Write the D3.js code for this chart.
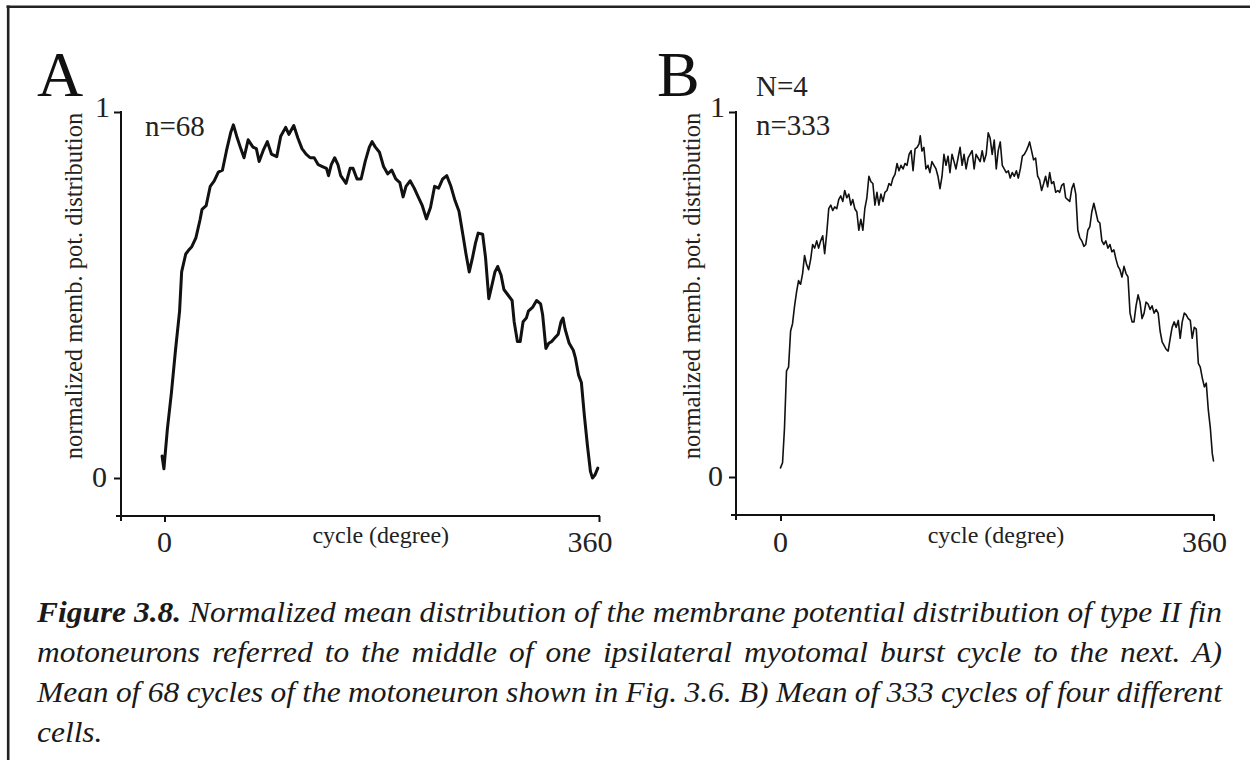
<!DOCTYPE html>
<html><head><meta charset="utf-8">
<script src="https://cdn.jsdelivr.net/npm/d3@7"></script>
<style>
html,body{margin:0;padding:0;background:#fff;}
</style>
</head><body>
<svg id="chart" width="1250" height="760"></svg>
<script>
// ---------------- data ----------------
const xTicks = [0, 360];
const xTickLabels = ["0", "360"];
const yTicks = [0, 1];
const yTickLabels = ["0", "1"];
const panelLetters = ["A", "B"];
const panelNotesA = ["n=68"];
const panelNotesB = ["N=4", "n=333"];
const xTitle = "cycle (degree)";
const yTitle = "normalized memb. pot. distribution";

// Panel A : [phase (deg), normalized value]
const curveA = [[-2,0.06],[-0.5,0.025],[2.4,0.134],[5.7,0.232],[9.1,0.349],[12.5,0.456],[14.2,0.563],[17.6,0.612],[19.9,0.622],[22.6,0.632],
[26.0,0.656],[29.4,0.705],[31.1,0.734],[34.5,0.744],[37.9,0.797],[41.2,0.812],[44.6,0.836],[48.0,0.841],[51.4,0.895],[54.8,0.943],
[57.1,0.965],[59.8,0.934],[63.2,0.900],[65.9,0.875],[69.3,0.924],[73.3,0.904],[76.1,0.900],[78.4,0.865],[81.8,0.895],[85.2,0.919],
[88.6,0.885],[93.0,0.878],[96.3,0.934],[100.4,0.958],[103.1,0.939],[107.1,0.963],[110.5,0.929],[113.9,0.900],[117.3,0.885],[120.7,0.875],
[124.0,0.875],[127.4,0.856],[130.8,0.851],[134.2,0.846],[135.9,0.826],[138.2,0.856],[141.0,0.875],[143.7,0.856],[146.0,0.826],[150.4,0.805],
[153.8,0.846],[156.2,0.846],[159.5,0.817],[162.9,0.817],[166.3,0.865],[169.7,0.904],[172.0,0.919],[174.7,0.904],[178.1,0.890],[181.5,0.851],
[184.9,0.831],[188.3,0.841],[191.6,0.817],[195.0,0.807],[197.7,0.768],[200.1,0.797],[203.5,0.812],[206.9,0.792],[210.2,0.768],[213.6,0.744],
[217.0,0.708],[220.4,0.739],[223.8,0.797],[227.1,0.792],[230.5,0.817],[233.9,0.826],[237.3,0.797],[240.7,0.758],[244.0,0.729],[247.4,0.661],
[249.8,0.612],[252.5,0.563],[255.2,0.602],[257.6,0.641],[259.9,0.669],[263.6,0.666],[266.0,0.602],[268.7,0.490],[271.1,0.524],[273.8,0.563],
[276.1,0.578],[278.9,0.554],[281.2,0.515],[284.6,0.500],[288.0,0.485],[289.7,0.427],[292.4,0.373],[294.7,0.373],[297.1,0.427],[299.8,0.437],
[301.5,0.456],[304.9,0.466],[308.3,0.485],[311.6,0.476],[313.3,0.446],[316.0,0.354],[318.4,0.368],[320.8,0.373],[323.5,0.383],[326.2,0.393],
[328.5,0.427],[330.2,0.437],[331.9,0.407],[335.3,0.368],[338.7,0.349],[340.4,0.329],[343.1,0.281],[345.4,0.261],[347.8,0.173],[350.5,0.086],
[352.9,0.018],[354.6,0.0],[356.6,0.008],[359.0,0.027]];

// Panel B : [phase (deg), normalized value]
const curveB = [[0,0.025],[1.7,0.039],[3.3,0.133],[5.0,0.291],[6.7,0.301],[8.4,0.400],[10.0,0.420],[11.7,0.469],[13.4,0.508],[15.0,0.538],
[16.7,0.528],[18.4,0.558],[20.0,0.607],[21.7,0.582],[23.4,0.568],[25.1,0.597],[26.7,0.637],[28.4,0.627],[30.1,0.647],[31.7,0.627],
[33.4,0.647],[35.1,0.661],[36.7,0.612],[38.4,0.666],[40.1,0.735],[41.8,0.745],[43.4,0.730],[45.1,0.740],[46.8,0.735],[48.4,0.760],
[50.1,0.770],[51.8,0.755],[53.4,0.785],[55.1,0.765],[56.8,0.775],[58.5,0.745],[60.1,0.760],[61.8,0.735],[63.5,0.726],[65.1,0.676],
[66.8,0.706],[68.5,0.676],[70.1,0.735],[71.8,0.765],[73.5,0.824],[75.2,0.809],[76.8,0.804],[78.5,0.745],[80.2,0.780],[81.8,0.745],
[83.5,0.775],[85.2,0.755],[86.8,0.780],[88.5,0.785],[90.2,0.804],[91.9,0.799],[93.5,0.819],[95.2,0.829],[96.9,0.859],[98.5,0.839],
[100.2,0.854],[101.9,0.844],[103.5,0.859],[105.2,0.854],[106.9,0.884],[108.6,0.894],[110.2,0.839],[111.9,0.899],[113.6,0.903],[115.2,0.913],
[116.2,0.935],[117.6,0.893],[119.2,0.903],[120.9,0.844],[122.6,0.854],[124.2,0.834],[125.9,0.864],[127.6,0.854],[129.3,0.844],[130.9,0.824],
[132.6,0.790],[134.3,0.824],[135.9,0.884],[137.6,0.854],[139.3,0.879],[140.9,0.834],[142.6,0.884],[144.3,0.864],[145.9,0.844],[147.6,0.874],
[149.3,0.903],[151.0,0.854],[152.6,0.884],[154.3,0.844],[156.0,0.874],[157.6,0.884],[159.3,0.894],[161.0,0.844],[162.6,0.884],[164.3,0.874],
[166.0,0.864],[167.7,0.894],[169.3,0.864],[171.0,0.884],[172.7,0.943],[174.3,0.928],[176.0,0.884],[177.7,0.923],[179.4,0.844],[181.0,0.894],
[182.7,0.918],[184.4,0.854],[186.0,0.844],[187.7,0.834],[189.4,0.839],[191.0,0.819],[192.7,0.834],[194.4,0.824],[196.1,0.839],[197.7,0.819],
[199.4,0.844],[201.1,0.879],[202.7,0.884],[204.4,0.894],[206.1,0.908],[207.1,0.918],[208.8,0.893],[210.4,0.869],[212.1,0.874],[213.8,0.824],
[215.4,0.814],[217.1,0.785],[218.8,0.804],[220.4,0.824],[222.1,0.795],[223.8,0.834],[225.4,0.804],[227.1,0.809],[228.8,0.780],[230.5,0.785],
[232.1,0.780],[233.8,0.799],[235.5,0.804],[237.1,0.765],[238.8,0.760],[240.5,0.755],[242.2,0.790],[243.8,0.804],[245.5,0.775],[247.2,0.676],
[248.8,0.656],[250.5,0.647],[252.2,0.632],[253.8,0.637],[255.5,0.676],[257.2,0.686],[258.8,0.726],[260.5,0.750],[262.2,0.726],[263.9,0.701],
[265.5,0.696],[267.2,0.647],[268.9,0.637],[270.5,0.647],[272.2,0.627],[273.9,0.637],[275.5,0.617],[277.2,0.622],[278.9,0.597],[280.6,0.577],
[282.2,0.568],[283.9,0.548],[285.6,0.577],[287.2,0.558],[288.9,0.548],[290.6,0.449],[292.3,0.425],[293.9,0.425],[295.6,0.469],[297.3,0.499],
[298.9,0.479],[300.6,0.434],[302.3,0.449],[303.9,0.479],[305.6,0.474],[307.3,0.459],[308.9,0.469],[310.6,0.449],[312.3,0.459],[314.0,0.449],
[315.6,0.400],[317.3,0.370],[319.0,0.360],[320.6,0.350],[322.3,0.345],[324.0,0.380],[325.6,0.410],[327.3,0.425],[329.0,0.410],[330.7,0.429],
[332.3,0.380],[334.0,0.425],[335.7,0.449],[337.3,0.444],[339.0,0.434],[340.7,0.429],[342.3,0.380],[344.0,0.410],[345.7,0.405],[347.4,0.311],
[349.0,0.301],[350.7,0.271],[352.4,0.247],[354.0,0.257],[355.7,0.183],[357.4,0.133],[359.0,0.064],[360,0.044]];

const captionBoldWords = 2;
const captionLines = [
  "Figure 3.8. Normalized mean distribution of the membrane potential distribution of type II fin",
  "motoneurons referred to the middle of one ipsilateral myotomal burst cycle to the next. A)",
  "Mean of 68 cycles of the motoneuron shown in Fig. 3.6. B) Mean of 333 cycles of four different",
  "cells."
];

// ---------------- layout ----------------
const FONT = "Liberation Serif";
const svg = d3.select("#chart").attr("font-family", FONT);
const ink = "#111";

// frame (top and left rules)
svg.append("line").attr("x1", 6.5).attr("x2", 1250).attr("y1", 6.7).attr("y2", 6.7)
  .attr("stroke", "#222").attr("stroke-width", 2.6);
svg.append("line").attr("x1", 8.2).attr("x2", 8.2).attr("y1", 5.5).attr("y2", 760)
  .attr("stroke", "#222").attr("stroke-width", 2.6);

const panels = [
  {letter: panelLetters[0], data: curveA, notes: panelNotesA, axisX: 121, xr: [164.5, 599], yr: [478, 112], axisY: 516,
   lw: 3.0, letterX: 37, notesX: 145, notesY: [136], yTitleX: 82, yLblX: [107, 110]},
  {letter: panelLetters[1], data: curveB, notes: panelNotesB, axisX: 736, xr: [780.5, 1213.5], yr: [477, 112], axisY: 515,
   lw: 1.6, letterX: 657, notesX: 756, notesY: [96, 135], yTitleX: 700, yLblX: [723, 725]}
];

panels.forEach(p => {
  const g = svg.append("g");
  const x = d3.scaleLinear().domain([0, 360]).range(p.xr);
  const y = d3.scaleLinear().domain([0, 1]).range(p.yr);

  // y axis ticks
  const ya = g.append("g").attr("transform", `translate(${p.axisX},0)`)
    .call(d3.axisLeft(y).tickValues(yTicks).tickSize(7).tickFormat(""));
  ya.select(".domain").remove();
  ya.selectAll(".tick line").attr("stroke", ink).attr("stroke-width", 2);
  g.append("line").attr("x1", p.axisX).attr("x2", p.axisX)
    .attr("y1", y(1) - 1).attr("y2", p.axisY + 5).attr("stroke", ink).attr("stroke-width", 2);

  // x axis ticks
  const xa = g.append("g").attr("transform", `translate(0,${p.axisY})`)
    .call(d3.axisBottom(x).tickValues(xTicks).tickSize(6).tickFormat(""));
  xa.select(".domain").remove();
  xa.selectAll(".tick line").attr("stroke", ink).attr("stroke-width", 2);
  g.append("line").attr("x1", p.axisX - 5).attr("x2", x(360) + 1)
    .attr("y1", p.axisY).attr("y2", p.axisY).attr("stroke", ink).attr("stroke-width", 2);

  // x tick labels
  xTicks.forEach((t, i) => {
    g.append("text").attr("x", x(t) + (i === 1 ? -9 : 0)).attr("y", 552)
      .attr("text-anchor", "middle").attr("font-size", 30).attr("fill", "#222").text(xTickLabels[i]);
  });
  // y tick labels
  yTicks.forEach((t, i) => {
    g.append("text").attr("x", p.yLblX[i]).attr("y", y(t) + (i === 0 ? 9 : 5))
      .attr("text-anchor", "end").attr("font-size", 30).attr("fill", "#222").text(yTickLabels[i]);
  });

  // axis titles
  g.append("text").attr("x", (p.xr[0] + p.xr[1]) / 2 - 1).attr("y", 543)
    .attr("text-anchor", "middle").attr("font-size", 24).attr("fill", "#222").text(xTitle);
  g.append("text").attr("transform", `translate(${p.yTitleX},286) rotate(-90)`)
    .attr("text-anchor", "middle").attr("font-size", 24.5).attr("fill", "#222").text(yTitle);

  // panel letter
  g.append("text").attr("x", p.letterX).attr("y", 96).attr("font-size", 64).attr("fill", "#111").text(p.letter);

  // notes
  p.notes.forEach((n, i) => {
    g.append("text").attr("x", p.notesX).attr("y", p.notesY[i]).attr("font-size", 29).attr("fill", "#222").text(n);
  });

  // curve
  const line = d3.line().x(d => x(d[0])).y(d => y(d[1]));
  g.append("path").datum(p.data).attr("d", line).attr("fill", "none")
    .attr("stroke", ink).attr("stroke-width", p.lw).attr("stroke-linejoin", "round").attr("stroke-linecap", "round");
});

// ---------------- caption (justified, slightly widened glyphs) ----------------
const capLeft = 37, capRight = 1222;
const capBaselines = [622, 662, 702, 742];
const capFont = 30;

function measure(words, size) {
  const tmp = svg.append("g");
  const w = words.map((t, i) => {
    const n = tmp.append("text").attr("font-size", size).attr("font-style", "italic")
      .attr("font-weight", i < (words.bold || 0) ? "bold" : "normal").text(t);
    return n.node().getComputedTextLength();
  });
  tmp.remove();
  return w;
}
const wordsPerLine = captionLines.map((l, li) => { const w = l.split(" "); w.bold = li === 0 ? captionBoldWords : 0; return w; });
const spaceW = capFont * 0.25;
const natural1 = d3.sum(measure(wordsPerLine[0], capFont)) + (wordsPerLine[0].length - 1) * spaceW;
const sx = Math.max(1, Math.min(1.2, (capRight - capLeft) / natural1));
const localWidth = (capRight - capLeft) / sx;

wordsPerLine.forEach((ws, li) => {
  const widths = measure(ws, capFont);
  const justify = li < captionLines.length - 1;
  const gap = justify ? (localWidth - d3.sum(widths)) / (ws.length - 1) : spaceW;
  const lg = svg.append("g").attr("transform", `translate(${capLeft},${capBaselines[li]}) scale(${sx},1)`);
  let cx = 0;
  ws.forEach((t, i) => {
    lg.append("text").attr("x", cx).attr("y", 0).attr("font-size", capFont)
      .attr("font-style", "italic").attr("font-weight", i < ws.bold ? "bold" : "normal")
      .attr("fill", "#1a1a1a").text(t);
    cx += widths[i] + gap;
  });
});
</script>
</body></html>
